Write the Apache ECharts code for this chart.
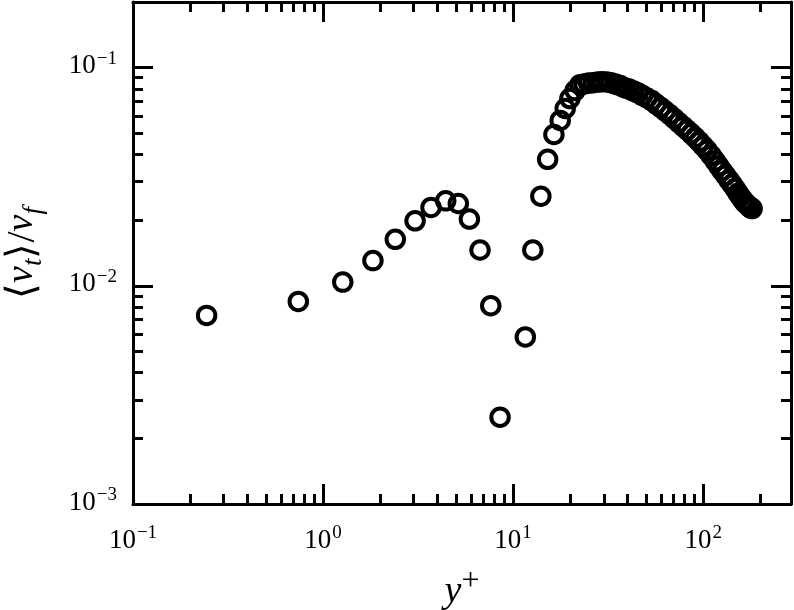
<!DOCTYPE html>
<html><head><meta charset="utf-8">
<script src="https://cdn.jsdelivr.net/npm/echarts@6/dist/echarts.min.js"></script>
<style>html,body{margin:0;padding:0;background:#fff}#c{width:794px;height:610px}</style>
</head><body><div id="c"></div>
<script>
// y+ positions
const yPlus = [0.244, 0.741, 1.27, 1.83, 2.40, 3.05, 3.70, 4.42, 5.15, 5.89, 6.70, 7.63, 8.54,
  11.6, 12.7, 14.0, 15.2, 16.4, 17.7, 18.8, 19.9, 21.2, 22.5,
  23.6, 25.0, 26.4, 27.9, 29.4, 31.1, 32.8, 34.6, 36.6, 38.6, 40.8, 43.1, 45.5, 48.0, 50.7, 53.6,
  56.6, 59.8, 63.1, 66.6, 70.4, 74.3, 78.5, 82.4, 86.5, 90.8, 95.3, 100.0, 105.0, 110.2, 115.7,
  120.7, 125.9, 131.3, 137.0, 142.1, 147.4, 152.8, 157.5, 162.3, 166.4, 170.4, 173.6, 176.7, 178.9, 181.1];
// <v_t>/v_f values
const vtRatio = [0.00732, 0.00848, 0.0104, 0.01305, 0.01634, 0.01987, 0.02288, 0.02452, 0.02385, 0.02023, 0.0146, 0.00811, 0.00250,
  0.00583, 0.0146, 0.02576, 0.0380, 0.0494, 0.0573, 0.0650, 0.0722, 0.0785, 0.0836,
  0.0841, 0.0850, 0.0854, 0.0859, 0.0863, 0.0860, 0.0854, 0.0841, 0.0828, 0.0810, 0.0798, 0.0781, 0.0765, 0.0745, 0.0726, 0.0707,
  0.0681, 0.0657, 0.0633, 0.0610, 0.0585, 0.0561, 0.0538, 0.0518, 0.0499, 0.0479, 0.0459, 0.0438, 0.0418, 0.0396, 0.0374,
  0.0355, 0.0337, 0.0321, 0.0305, 0.0292, 0.0279, 0.0266, 0.0256, 0.0247, 0.0240, 0.0236, 0.0232, 0.0229, 0.0227, 0.0226];

const xMajorTicks = [0.1, 1, 10, 100];
const xMinorTicks = [0.2,0.3,0.4,0.5,0.6,0.7,0.8,0.9, 2,3,4,5,6,7,8,9, 20,30,40,50,60,70,80,90, 200];
const yMajorTicks = [0.001, 0.01, 0.1];
const yMinorTicks = [0.002,0.003,0.004,0.005,0.006,0.007,0.008,0.009, 0.02,0.03,0.04,0.05,0.06,0.07,0.08,0.09];

const FONT = 'Liberation Serif';
function powLabel(v) {
  const e = Math.round(Math.log10(v));
  return '{base|10}{sup|' + (e < 0 ? '\u2212' + (-e) : String(e)) + '}';
}
const labelRich = {
  base: {fontFamily: FONT, fontSize: 27, lineHeight: 30, verticalAlign: 'bottom', color: '#000'},
  sup: {fontFamily: FONT, fontSize: 19, lineHeight: 19, verticalAlign: 'top', color: '#000', padding: [0, 0, 0, 1]}
};
const line = {show: true, onZero: false, lineStyle: {color: '#000', width: 3}};
const XMIN = 0.1, XMAX = 290, YMIN = 0.001, YMAX = 0.2;

function xAx(pos, major, labels) {
  return {
    type: 'log', logBase: 10, min: XMIN, max: XMAX, position: pos,
    axisLine: major ? line : {show: false},
    axisTick: {show: true, inside: true, length: major ? 20 : 10, lineStyle: {color: '#000', width: 3},
      customValues: major ? xMajorTicks : xMinorTicks},
    axisLabel: labels ? {show: true, customValues: xMajorTicks, formatter: powLabel, rich: labelRich, margin: 20} : {show: false},
    splitLine: {show: false}, minorTick: {show: false}, minorSplitLine: {show: false},
    axisPointer: {show: false}
  };
}
function yAx(pos, major, labels) {
  return {
    type: 'log', logBase: 10, min: YMIN, max: YMAX, position: pos,
    axisLine: major ? line : {show: false},
    axisTick: {show: true, inside: true, length: major ? 20 : 10, lineStyle: {color: '#000', width: 3},
      customValues: major ? yMajorTicks : yMinorTicks},
    axisLabel: labels ? {show: true, customValues: yMajorTicks, formatter: powLabel, rich: labelRich, margin: 16, padding: [0,0,6,0]} : {show: false},
    splitLine: {show: false}, minorTick: {show: false}, minorSplitLine: {show: false},
    axisPointer: {show: false}
  };
}
const xs = [xAx('bottom', true, true), xAx('bottom', false, false), xAx('top', true, false), xAx('top', false, false)];
xs[0].name = '{it|y}{plus|+}';
xs[0].nameLocation = 'middle';
xs[0].nameGap = 62;
xs[0].nameTextStyle = {rich: {
  it: {fontFamily: FONT, fontStyle: 'italic', fontSize: 38, lineHeight: 45, verticalAlign: 'bottom', color: '#000'},
  plus: {fontFamily: FONT, fontSize: 32, lineHeight: 40, verticalAlign: 'top', color: '#000'}
}};
const ys = [yAx('left', true, true), yAx('left', false, false), yAx('right', true, false), yAx('right', false, false)];
ys[0].name = '{br|\u27E8}{v|v}{sb|t}{br|\u27E9/}{v|v}{sb|f}';
ys[0].nameLocation = 'middle';
ys[0].nameGap = 86;
ys[0].nameTextStyle = {rich: {
  br: {fontFamily: FONT, fontSize: 40, lineHeight: 44, verticalAlign: 'top', color: '#000'},
  v: {fontFamily: FONT, fontStyle: 'italic', fontSize: 38, lineHeight: 44, verticalAlign: 'top', color: '#000'},
  sb: {fontFamily: FONT, fontStyle: 'italic', fontSize: 27, lineHeight: 34, verticalAlign: 'bottom', color: '#000'}
}};

const chart = echarts.init(document.getElementById('c'), null, {renderer: 'canvas'});
chart.setOption({
  animation: false,
  backgroundColor: '#fff',
  grid: {left: 133, right: 3, top: 2, bottom: 106, containLabel: false, outerBoundsMode: 'none'},
  xAxis: xs,
  yAxis: ys,
  series: [{
    type: 'scatter', xAxisIndex: 0, yAxisIndex: 0,
    data: yPlus.map((x, i) => [x, vtRatio[i]]),
    symbol: 'circle', symbolSize: 17.5,
    itemStyle: {color: 'rgba(0,0,0,0)', borderColor: '#000', borderWidth: 4, opacity: 1},
    emphasis: {disabled: true}
  }]
});
</script></body></html>
